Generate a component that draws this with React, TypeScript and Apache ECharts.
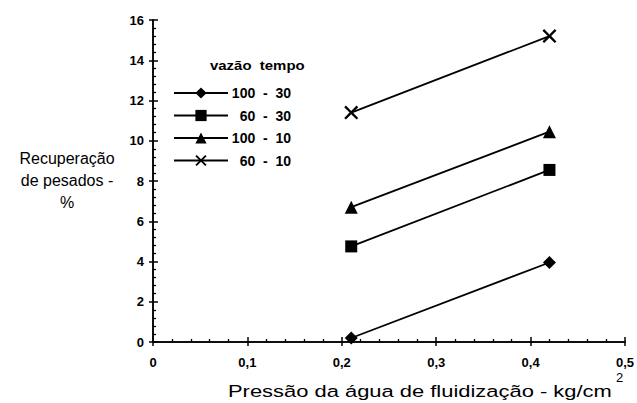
import React, { useEffect, useRef } from "react";
import * as echarts from "echarts";

const xValues = [0.21, 0.42];
const seriesNames = ["100 - 30", "60 - 30", "100 - 10", "60 - 10"];
const s1 = [0.2, 3.95];
const s2 = [4.75, 8.55];
const s3 = [6.7, 10.45];
const s4 = [11.4, 15.2];
const xTicks = [0, 0.1, 0.2, 0.3, 0.4, 0.5];
const yTicks = [0, 2, 4, 6, 8, 10, 12, 14, 16];

const crossPath =
  "path://M0,1.2L1.2,0L5,3.8L8.8,0L10,1.2L6.2,5L10,8.8L8.8,10L5,6.2L1.2,10L0,8.8L3.8,5Z";
const symbols = ["diamond", "rect", "triangle", crossPath];
const sizes = [13, 12, 13, 14];

export default function App() {
  const ref = useRef<HTMLDivElement>(null);
  useEffect(() => {
    document.body.style.margin = "0";
    const chart = echarts.init(ref.current!, null, { renderer: "svg" });
    const data = [s1, s2, s3, s4];
    const font = "Liberation Sans, Arial, sans-serif";
    const fmtX = (v: number) => (v === 0 ? "0" : String(+v.toFixed(1)).replace(".", ","));
    const tickStyle = { color: "#000", width: 1.5 };
    const minorStyle = { color: "#000", width: 1.3 };
    const baseX = {
      type: "value",
      min: xTicks[0],
      max: xTicks[xTicks.length - 1],
      interval: 0.1,
      splitLine: { show: false },
      axisLine: { show: true, onZero: false, lineStyle: { color: "#000", width: 1.5 } },
    };
    const baseY = {
      type: "value",
      min: yTicks[0],
      max: yTicks[yTicks.length - 1],
      interval: 2,
      splitLine: { show: false },
      axisLine: { show: true, onZero: false, lineStyle: { color: "#000", width: 1.5 } },
    };
    const nb = (s: string) => s.replace(/ /g, "\u00A0\u00A0");
    chart.setOption({
      animation: false,
      grid: { left: 153, right: 10, top: 20, bottom: 61, containLabel: false },
      xAxis: [
        {
          ...baseX,
          axisTick: { show: true, inside: false, length: 4, lineStyle: tickStyle },
          minorTick: { show: false },
          axisLabel: {
            formatter: fmtX,
            color: "#000",
            fontFamily: font,
            fontWeight: "bold",
            fontSize: 13,
            margin: 14,
          },
        },
        {
          ...baseX,
          position: "bottom",
          axisTick: { show: true, inside: true, length: 5, lineStyle: tickStyle },
          minorTick: { show: true, splitNumber: 5, length: 3, lineStyle: minorStyle },
          axisLabel: { show: false },
        },
      ],
      yAxis: [
        {
          ...baseY,
          axisTick: { show: true, inside: false, length: 4, lineStyle: tickStyle },
          minorTick: { show: false },
          axisLabel: {
            color: "#000",
            fontFamily: font,
            fontWeight: "bold",
            fontSize: 13,
            margin: 9,
          },
        },
        {
          ...baseY,
          position: "left",
          axisTick: { show: true, inside: true, length: 5, lineStyle: tickStyle },
          minorTick: { show: true, splitNumber: 5, length: 3, lineStyle: minorStyle },
          axisLabel: { show: false },
        },
      ],
      legend: {
        orient: "vertical",
        left: 173,
        top: 86,
        itemWidth: 54,
        itemHeight: 14,
        itemGap: 8.5,
        padding: 0,
        data: seriesNames,
        formatter: (name: string) => `{a|${nb(name)}}`,
        textStyle: {
          color: "#000",
          rich: {
            a: {
              width: 58,
              align: "right",
              fontWeight: "bold",
              fontSize: 14,
              lineHeight: 14,
              fontFamily: font,
              color: "#000",
            },
          },
        },
      },
      series: data.map((vals, i) => ({
        name: seriesNames[i],
        type: "line",
        xAxisIndex: 0,
        yAxisIndex: 0,
        data: vals.map((v, j) => [xValues[j], v]),
        symbol: symbols[i],
        symbolSize: sizes[i],
        showAllSymbol: true,
        lineStyle: { color: "#000", width: 1.8 },
        itemStyle: { color: "#000" },
        z: 5,
      })),
      graphic: [
        {
          type: "text",
          x: 210,
          y: 59,
          scaleX: 1.15,
          style: { text: "vazão\u00A0\u00A0tempo", font: `bold 13px ${font}`, fill: "#000" },
        },
        {
          type: "text",
          x: 67,
          y: 147,
          style: {
            text: "Recuperação\nde pesados -\n%",
            font: `16px ${font}`,
            fill: "#000",
            textAlign: "center",
            lineHeight: 22,
          },
        },
        {
          type: "text",
          x: 228,
          y: 382,
          scaleX: 1.29,
          style: {
            text: "Pressão da água de fluidização - kg/cm",
            font: `17px ${font}`,
            fill: "#000",
          },
        },
        {
          type: "text",
          x: 616,
          y: 371,
          style: { text: "2", font: `13px ${font}`, fill: "#000" },
        },
      ],
    });
    return () => chart.dispose();
  }, []);
  return <div ref={ref} style={{ width: 637, height: 403 }} />;
}
